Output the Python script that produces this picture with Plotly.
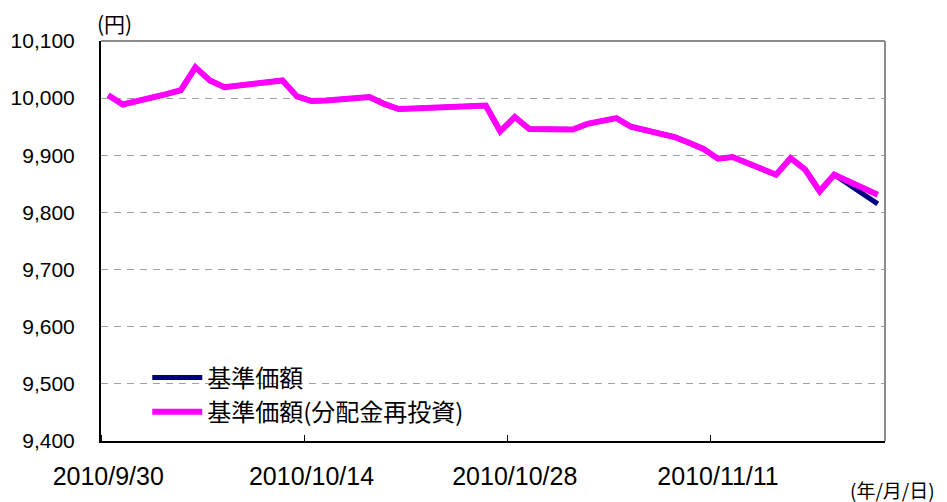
import pandas as pd
import plotly.graph_objects as go

dates = ["2010-09-30", "2010-10-01", "2010-10-04", "2010-10-05", "2010-10-06", "2010-10-07",
         "2010-10-08", "2010-10-12", "2010-10-13", "2010-10-14", "2010-10-15", "2010-10-18",
         "2010-10-19", "2010-10-20", "2010-10-21", "2010-10-22", "2010-10-25", "2010-10-26",
         "2010-10-27", "2010-10-28", "2010-10-29", "2010-11-01", "2010-11-02", "2010-11-04",
         "2010-11-05", "2010-11-08", "2010-11-09", "2010-11-10", "2010-11-11", "2010-11-12",
         "2010-11-15", "2010-11-16", "2010-11-17", "2010-11-18", "2010-11-19", "2010-11-22"]

nav_reinvest = [10005, 9989, 10007, 10014, 10054, 10031,
                10019, 10031, 10003, 9995, 9996, 10002,
                9990, 9981, 9982, 9983, 9987, 9987,
                9942, 9967, 9946, 9945, 9955, 9965,
                9950, 9932, 9922, 9911, 9894, 9897,
                9866, 9895, 9875, 9837, 9866, 9831]

nav = nav_reinvest[:-1] + [9815]

tick_dates = ["2010-09-30", "2010-10-14", "2010-10-28", "2010-11-11"]
tick_labels = ["2010/9/30", "2010/10/14", "2010/10/28", "2010/11/11"]

series_names = ["基準価額", "基準価額(分配金再投資)"]

x = pd.to_datetime(dates) + pd.Timedelta(hours=12)
tick_x = pd.to_datetime(tick_dates) + pd.Timedelta(hours=12)

NUM_FONT = "Liberation Sans, Arial, sans-serif"
JP_FONT = "Noto Sans CJK JP, sans-serif"

fig = go.Figure()
fig.add_trace(go.Scatter(x=x, y=nav, mode="lines", name=series_names[0],
                         line=dict(color="#000080", width=5)))
fig.add_trace(go.Scatter(x=x, y=nav_reinvest, mode="lines", name=series_names[1],
                         line=dict(color="#FF00FF", width=6)))

# the page body adds an 8px offset, so the figure is 8px smaller than the window
fig.update_layout(
    width=939, height=494,
    margin=dict(l=93, r=62, t=33, b=61),
    paper_bgcolor="white", plot_bgcolor="white",
    font=dict(family=NUM_FONT, color="black"),
    showlegend=True,
    legend=dict(x=0.059, y=0.214, xanchor="left", yanchor="top",
                bgcolor="rgba(0,0,0,0)", itemwidth=50,
                font=dict(family=JP_FONT, size=24, color="black"),
                tracegroupgap=0, itemclick=False),
    xaxis=dict(type="date", automargin=False,
               range=["2010-09-30", "2010-11-23"],
               tickmode="array", tickvals=tick_x, ticktext=tick_labels,
               ticks="", showgrid=False, zeroline=False,
               showline=True, linecolor="black", linewidth=2,
               tickfont=dict(family=NUM_FONT, size=25),
               ticklabelstandoff=12,
               minor=dict(tick0="2010-09-30", dtick=14 * 86400000,
                          ticks="inside", ticklen=6, tickcolor="black", tickwidth=1,
                          showgrid=False)),
    yaxis=dict(range=[9400, 10100], dtick=100, tick0=9400, tickformat=",",
               automargin=False,
               showgrid=True, gridcolor="#a0a0a0", gridwidth=1, griddash="7px,6px",
               zeroline=False, showline=True, linecolor="black", linewidth=2,
               ticks="", tickfont=dict(family=NUM_FONT, size=21),
               ticklabelstandoff=20),
)

# gray top/right frame
fig.add_shape(type="line", xref="paper", yref="paper", x0=0, x1=1, y0=1, y1=1,
              line=dict(color="#8c8c8c", width=2))
fig.add_shape(type="line", xref="paper", yref="paper", x0=1, x1=1, y0=0, y1=1,
              line=dict(color="#8c8c8c", width=2))
# legend backdrop hiding the grid line behind it
fig.add_shape(type="rect", xref="paper", yref="paper", x0=0.005, x1=0.547, y0=0.06, y1=0.19,
              fillcolor="white", line=dict(width=0), layer="between")

fig.add_annotation(text="(円)", xref="paper", yref="paper", x=-0.006, y=1.0,
                   xanchor="left", yanchor="bottom", yshift=2, showarrow=False, borderpad=0,
                   font=dict(family=JP_FONT, size=21, color="black"))
fig.add_annotation(text="(年/月/日)", xref="paper", yref="paper", x=1.0, y=0.0,
                   xanchor="left", yanchor="top", xshift=-37, yshift=-33, showarrow=False,
                   font=dict(family=JP_FONT, size=19, color="black"))

fig.write_html("out.html")
